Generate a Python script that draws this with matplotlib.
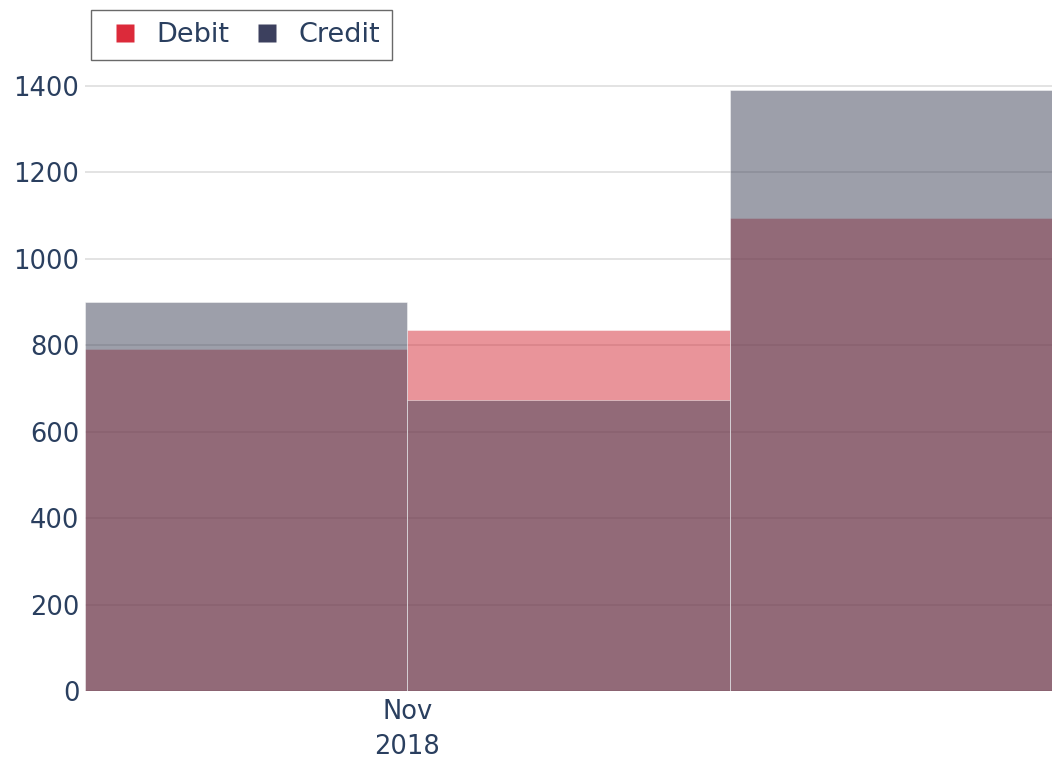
import matplotlib
matplotlib.use("Agg")
import matplotlib.pyplot as plt
import matplotlib.dates as mdates
from matplotlib.lines import Line2D
import datetime as dt

# bin edges (equal width bins) and totals per bin
bin_edges = [dt.date(2018, 10, 1), dt.date(2018, 11, 1), dt.date(2018, 12, 2), dt.date(2019, 1, 2)]
debit = [790, 835, 1095]
credit = [900, 673, 1390]

debit_color = "#d52b37"
credit_color = "#3d4157"
text_color = "#2a3f5f"

fig = plt.figure(figsize=(10.52, 7.73), dpi=100)
ax = fig.add_axes([85 / 1052, 1 - 691 / 773, 1 - 85 / 1052, (691 - 58) / 773])

starts = [mdates.date2num(d) for d in bin_edges[:-1]]
widths = [mdates.date2num(bin_edges[i + 1]) - mdates.date2num(bin_edges[i]) for i in range(len(bin_edges) - 1)]

ax.bar(starts, debit, width=widths, align="edge", color=debit_color, alpha=0.5,
       edgecolor="white", linewidth=0.6, zorder=2)
ax.bar(starts, credit, width=widths, align="edge", color=credit_color, alpha=0.5,
       edgecolor="white", linewidth=0.6, zorder=3)

ax.set_xlim(mdates.date2num(bin_edges[0]), mdates.date2num(bin_edges[-1]))
ax.set_ylim(0, 1464)
ax.set_yticks(range(0, 1401, 200))
ax.set_xticks([mdates.date2num(dt.date(2018, 11, 1))])
ax.set_xticklabels(["Nov\n2018"], linespacing=1.45)

ax.grid(axis="y", color="#dedede", linewidth=1.2, zorder=0)
ax.set_axisbelow(True)
for s in ax.spines.values():
    s.set_visible(False)
ax.tick_params(axis="both", length=0, labelsize=18.5, labelcolor=text_color)
ax.tick_params(axis="y", pad=4)
ax.tick_params(axis="x", pad=6)

handles = [Line2D([], [], linestyle="none", marker="s", markersize=13.5,
                  markerfacecolor="#dc2a3a", markeredgecolor="none"),
           Line2D([], [], linestyle="none", marker="s", markersize=13.5,
                  markerfacecolor="#3c405e", markeredgecolor="none")]
leg = fig.legend(handles, ["Debit", "Credit"], loc="upper left",
                 bbox_to_anchor=(91 / 1052, 1 - 10 / 773), ncol=2, fontsize=19.5,
                 frameon=True, fancybox=False, handlelength=1.6,
                 handletextpad=0.37, columnspacing=0.57, borderpad=0.45, borderaxespad=0)
leg.get_frame().set_edgecolor("#444444")
leg.get_frame().set_linewidth(1)
for t in leg.get_texts():
    t.set_color(text_color)

fig.savefig("out.png", dpi=100)
